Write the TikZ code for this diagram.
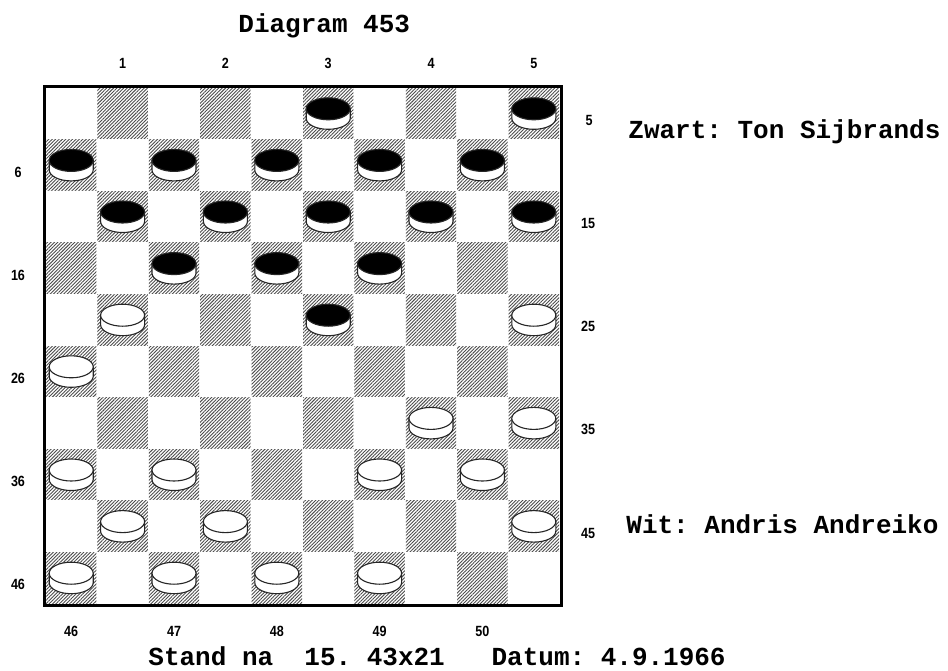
\documentclass[tikz,border=0pt]{standalone}
\usepackage{fontspec}
\setmonofont{Liberation Mono}
\newfontfamily\numfont[FakeStretch=0.85]{Liberation Sans}
\usetikzlibrary{patterns.meta}

\tikzset{
  title/.style={font=\ttfamily\bfseries\fontsize{13}{15}\selectfont, inner sep=0pt, anchor=base west},
  numlabel/.style={font=\numfont\bfseries\fontsize{7.4}{8}\selectfont, inner sep=0pt},
  darksq/.style={pattern={Lines[angle=45,distance=1.2pt,line width=0.45pt]}, pattern color=black!70},
  rim/.style={draw=black!85, line width=0.55pt}
}

% one disc: column, row, colour of its top
\newcommand{\disc}[3]{%
  \pgfmathsetmacro\cx{\bx + \sq*(#1-0.5)}%
  \pgfmathsetmacro\cy{\by - \sqh*(#2-0.5)}%
  \filldraw[rim, fill=white] (\cx-22,\cy+4.5) -- (\cx-22,\cy-5)
    arc[start angle=180, end angle=360, x radius=11pt, y radius=5.5pt]
    -- (\cx+22,\cy+4.5) -- cycle;
  \filldraw[rim, fill=#3] (\cx,\cy+4.5) ellipse [x radius=11pt, y radius=5.5pt];
}

\begin{document}
\begin{tikzpicture}[x=0.5pt, y=0.5pt]
    \useasboundingbox (0,0) rectangle (948,-670);

    % board corner and size of a square
    \def\bx{45.5}
    \def\by{-87.5}
    \def\sq{51.4}
    \def\sqh{51.6}

    % dark squares
    \foreach \r in {1,...,10}
      \foreach \k in {0,...,4} {
        \pgfmathtruncatemacro\c{2*\k + 1 + mod(\r,2)}
        \path[darksq] (\bx+\sq*\c-\sq+0.5, \by-\sqh*\r+\sqh-0.5) rectangle ++(\sq-1, -\sqh+1);
      }

    % frame
    \draw[line width=1.5pt] (44,-86) rectangle (561,-605);

    % black
    \disc{6}{1}{black} \disc{10}{1}{black}
    \disc{1}{2}{black} \disc{3}{2}{black} \disc{5}{2}{black} \disc{7}{2}{black} \disc{9}{2}{black}
    \disc{2}{3}{black} \disc{4}{3}{black} \disc{6}{3}{black} \disc{8}{3}{black} \disc{10}{3}{black}
    \disc{3}{4}{black} \disc{5}{4}{black} \disc{7}{4}{black}
    \disc{6}{5}{black}

    % white
    \disc{2}{5}{white} \disc{10}{5}{white}
    \disc{1}{6}{white}
    \disc{8}{7}{white} \disc{10}{7}{white}
    \disc{1}{8}{white} \disc{3}{8}{white} \disc{7}{8}{white} \disc{9}{8}{white}
    \disc{2}{9}{white} \disc{4}{9}{white} \disc{10}{9}{white}
    \disc{1}{10}{white} \disc{3}{10}{white} \disc{5}{10}{white} \disc{7}{10}{white}

    % numbers round the board
    \node[numlabel] (top1) at (\bx+\sq*1.5, -63) {1};
    \node[numlabel] (top2) at (\bx+\sq*3.5, -63) {2};
    \node[numlabel] (top3) at (\bx+\sq*5.5, -63) {3};
    \node[numlabel] (top4) at (\bx+\sq*7.5, -63) {4};
    \node[numlabel] (top5) at (\bx+\sq*9.5, -63) {5};
    \node[numlabel] (left6) at (18, \by-\sqh*1.5-7) {6};
    \node[numlabel] (left16) at (18, \by-\sqh*3.5-7) {16};
    \node[numlabel] (left26) at (18, \by-\sqh*5.5-7) {26};
    \node[numlabel] (left36) at (18, \by-\sqh*7.5-7) {36};
    \node[numlabel] (left46) at (18, \by-\sqh*9.5-7) {46};
    \node[numlabel] (right5) at (589, \by-\sqh*0.5-7) {5};
    \node[numlabel] (right15) at (588, \by-\sqh*2.5-7) {15};
    \node[numlabel] (right25) at (588, \by-\sqh*4.5-7) {25};
    \node[numlabel] (right35) at (588, \by-\sqh*6.5-7) {35};
    \node[numlabel] (right45) at (588, \by-\sqh*8.5-7) {45};
    \node[numlabel] (bot46) at (\bx+\sq*0.5, -631) {46};
    \node[numlabel] (bot47) at (\bx+\sq*2.5, -631) {47};
    \node[numlabel] (bot48) at (\bx+\sq*4.5, -631) {48};
    \node[numlabel] (bot49) at (\bx+\sq*6.5, -631) {49};
    \node[numlabel] (bot50) at (\bx+\sq*8.5, -631) {50};

    % texts
    \node[title] (diagram) at (238,-32) {Diagram 453};
    \node[title] (zwart) at (628,-138) {Zwart: Ton Sijbrands};
    \node[title] (wit) at (626,-533) {Wit: Andris Andreiko};
    \node[title] (stand) at (148,-665) {Stand na\ \ 15. 43x21\ \ \ Datum: 4.9.1966};
\end{tikzpicture}
\end{document}
